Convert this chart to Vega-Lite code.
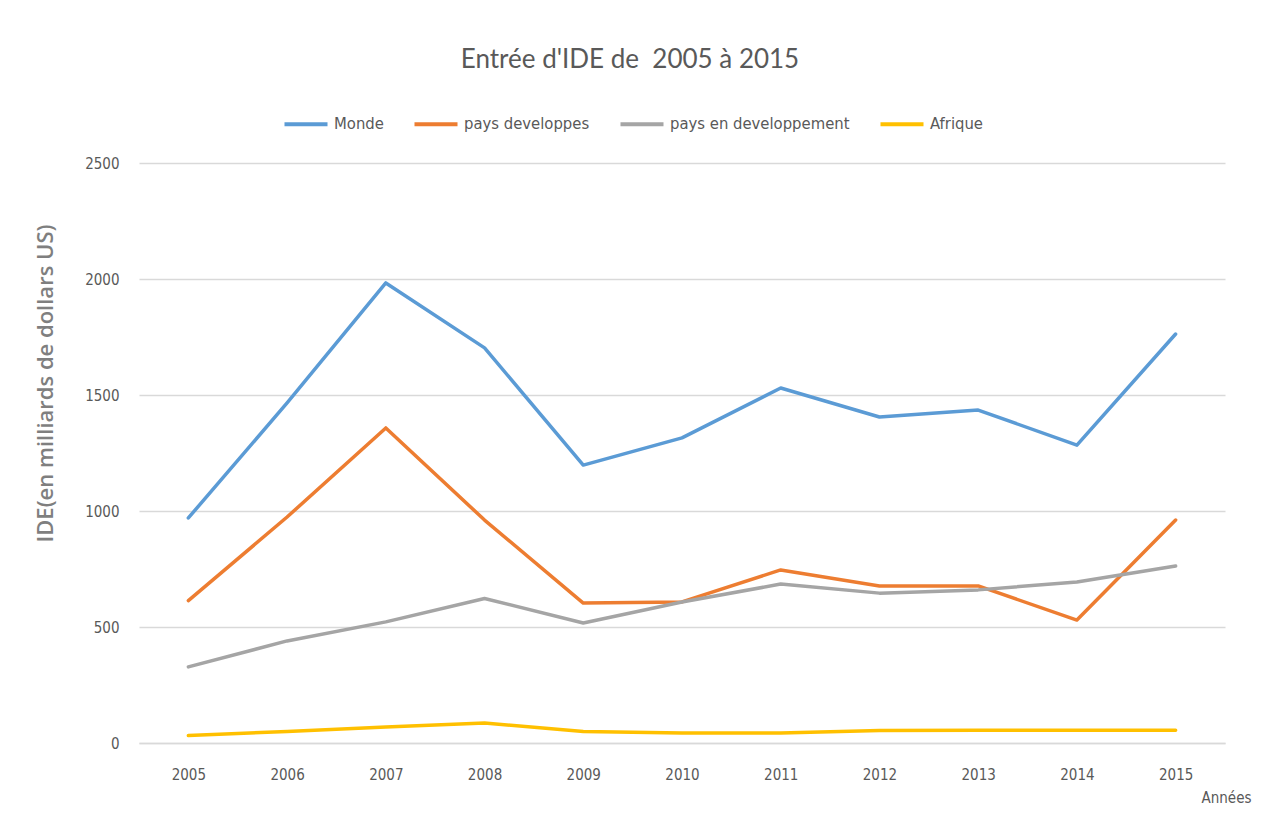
{
  "$schema": "https://vega.github.io/schema/vega-lite/v6.json",
  "autosize": {"type": "none"},
  "padding": {"left": 139, "top": 163, "right": 57, "bottom": 77},
  "width": 1086,
  "height": 580,
  "background": "white",
  "title": {
    "text": "Entrée d'IDE de\u00a0 2005 à 2015",
    "font": "Lato",
    "fontSize": 26,
    "fontWeight": "normal",
    "color": "#595959",
    "anchor": "middle",
    "dx": -52,
    "offset": 27
  },
  "data": {
    "values": [
      {"annee": "2005", "serie": "Monde", "ide": 970},
      {"annee": "2006", "serie": "Monde", "ide": 1466},
      {"annee": "2007", "serie": "Monde", "ide": 1983},
      {"annee": "2008", "serie": "Monde", "ide": 1703},
      {"annee": "2009", "serie": "Monde", "ide": 1198},
      {"annee": "2010", "serie": "Monde", "ide": 1315},
      {"annee": "2011", "serie": "Monde", "ide": 1530},
      {"annee": "2012", "serie": "Monde", "ide": 1405},
      {"annee": "2013", "serie": "Monde", "ide": 1435},
      {"annee": "2014", "serie": "Monde", "ide": 1284},
      {"annee": "2015", "serie": "Monde", "ide": 1763},
      {"annee": "2005", "serie": "pays developpes", "ide": 614},
      {"annee": "2006", "serie": "pays developpes", "ide": 974},
      {"annee": "2007", "serie": "pays developpes", "ide": 1358},
      {"annee": "2008", "serie": "pays developpes", "ide": 961},
      {"annee": "2009", "serie": "pays developpes", "ide": 603},
      {"annee": "2010", "serie": "pays developpes", "ide": 608},
      {"annee": "2011", "serie": "pays developpes", "ide": 746},
      {"annee": "2012", "serie": "pays developpes", "ide": 677},
      {"annee": "2013", "serie": "pays developpes", "ide": 677},
      {"annee": "2014", "serie": "pays developpes", "ide": 530},
      {"annee": "2015", "serie": "pays developpes", "ide": 961},
      {"annee": "2005", "serie": "pays en developpement", "ide": 328},
      {"annee": "2006", "serie": "pays en developpement", "ide": 440},
      {"annee": "2007", "serie": "pays en developpement", "ide": 522},
      {"annee": "2008", "serie": "pays en developpement", "ide": 623},
      {"annee": "2009", "serie": "pays en developpement", "ide": 517},
      {"annee": "2010", "serie": "pays en developpement", "ide": 608},
      {"annee": "2011", "serie": "pays en developpement", "ide": 685},
      {"annee": "2012", "serie": "pays en developpement", "ide": 646},
      {"annee": "2013", "serie": "pays en developpement", "ide": 660},
      {"annee": "2014", "serie": "pays en developpement", "ide": 694},
      {"annee": "2015", "serie": "pays en developpement", "ide": 763},
      {"annee": "2005", "serie": "Afrique", "ide": 32},
      {"annee": "2006", "serie": "Afrique", "ide": 50},
      {"annee": "2007", "serie": "Afrique", "ide": 69},
      {"annee": "2008", "serie": "Afrique", "ide": 86},
      {"annee": "2009", "serie": "Afrique", "ide": 50},
      {"annee": "2010", "serie": "Afrique", "ide": 43},
      {"annee": "2011", "serie": "Afrique", "ide": 43},
      {"annee": "2012", "serie": "Afrique", "ide": 54},
      {"annee": "2013", "serie": "Afrique", "ide": 55},
      {"annee": "2014", "serie": "Afrique", "ide": 55},
      {"annee": "2015", "serie": "Afrique", "ide": 55}
    ]
  },
  "mark": {"type": "line", "strokeWidth": 3.5, "strokeCap": "round", "strokeJoin": "round"},
  "encoding": {
    "x": {
      "field": "annee",
      "type": "ordinal",
      "scale": {"type": "point", "padding": 0.5},
      "axis": {
        "title": "Années",
        "titleFont": "DejaVu Sans Condensed, Liberation Sans Narrow, Arial Narrow, sans-serif",
        "titleFontSize": 15,
        "titleFontWeight": "normal",
        "titleColor": "#595959",
        "titleAnchor": "end",
        "titleAlign": "right",
        "titleBaseline": "middle",
        "titleX": 1112,
        "titleY": 54,
        "labelAngle": 0,
        "labelFont": "DejaVu Sans Condensed, Liberation Sans Narrow, Arial Narrow, sans-serif",
        "labelFontSize": 15,
        "labelColor": "#595959",
        "labelPadding": 24,
        "ticks": false,
        "domain": true,
        "domainColor": "#d9d9d9",
        "domainWidth": 1.5,
        "grid": false
      }
    },
    "y": {
      "field": "ide",
      "type": "quantitative",
      "scale": {"domain": [0, 2500], "nice": false},
      "axis": {
        "values": [0, 500, 1000, 1500, 2000, 2500],
        "format": "d",
        "title": "IDE(en milliards de dollars US)",
        "titleFont": "Open Sans",
        "titleFontSize": 22,
        "titleFontWeight": 600,
        "titleColor": "#7f7f7f",
        "titleX": -94,
        "titleY": 220,
        "titleAngle": -90,
        "titleAlign": "center",
        "titleBaseline": "middle",
        "labelFont": "DejaVu Sans Condensed, Liberation Sans Narrow, Arial Narrow, sans-serif",
        "labelFontSize": 15,
        "labelColor": "#595959",
        "labelPadding": 20,
        "ticks": false,
        "domain": false,
        "grid": true,
        "gridColor": "#d9d9d9",
        "gridWidth": 1.5
      }
    },
    "color": {
      "field": "serie",
      "type": "nominal",
      "scale": {
        "domain": ["Monde", "pays developpes", "pays en developpement", "Afrique"],
        "range": ["#5b9bd5", "#ed7d31", "#a5a5a5", "#ffc000"]
      },
      "legend": {
        "title": null,
        "orient": "none",
        "direction": "horizontal",
        "legendX": 143,
        "legendY": -63,
        "symbolType": "stroke",
        "symbolStrokeWidth": 4,
        "symbolSize": 1850,
        "symbolOffset": 0,
        "labelFont": "DejaVu Sans Condensed, Liberation Sans Narrow, Arial Narrow, sans-serif",
        "labelFontSize": 16.5,
        "labelColor": "#595959",
        "labelOffset": 4,
        "labelLimit": 400,
        "columnPadding": 22
      }
    }
  },
  "config": {"view": {"stroke": null}}
}
